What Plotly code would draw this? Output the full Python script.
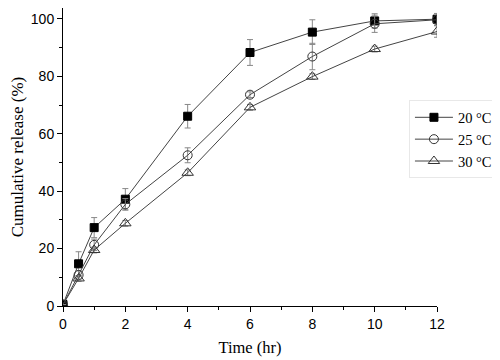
import plotly.graph_objects as go

time_hr = [0, 0.5, 1, 2, 4, 6, 8, 10, 12]
rel_20 = [0.5, 14.7, 27.3, 37.2, 66.1, 88.3, 95.4, 99.3, 99.9]
err_20 = [0, 4.2, 3.5, 3.7, 4.1, 4.5, 4.3, 2.5, 2.0]
rel_25 = [0.5, 10.8, 21.3, 35.4, 52.5, 73.6, 86.9, 98.3, 99.7]
err_25 = [0, 1.5, 2.0, 2.0, 2.6, 1.0, 4.6, 3.0, 2.0]
rel_30 = [0.5, 9.6, 19.5, 28.8, 46.4, 69.2, 79.9, 89.5, 95.6]
err_30 = [0, 1.0, 1.0, 1.0, 1.0, 1.0, 1.0, 1.0, 2.0]
labels = ["20 °C", "25 °C", "30 °C"]

series = [
    (rel_20, err_20, dict(symbol="square", size=8, color="black",
                          line=dict(color="black", width=1))),
    (rel_25, err_25, dict(symbol="circle-open", size=9, color="#333",
                          line=dict(color="#333", width=1))),
    (rel_30, err_30, dict(symbol="triangle-up-open", size=10, color="#333",
                          line=dict(color="#333", width=1))),
]

fig = go.Figure()
for (y, e, m), name in zip(series, labels):
    fig.add_trace(go.Scatter(
        x=time_hr, y=y, name=name, mode="lines+markers",
        line=dict(color="#444", width=1),
        marker=dict(**m),
        error_y=dict(type="data", array=e, visible=True, color="#888",
                     thickness=1, width=3),
    ))

serif = "Liberation Serif, Times New Roman, serif"
sans = "Liberation Sans, Arial, sans-serif"

axis_common = dict(
    showgrid=False, zeroline=False, showline=True, linecolor="black",
    linewidth=1, ticks="outside", ticklen=5, tickcolor="black",
    tickfont=dict(family=sans, size=14, color="black"),
    mirror=False,
)
fig.update_xaxes(range=[0, 12], dtick=2, tick0=0,
                 minor=dict(dtick=1, ticks="outside", ticklen=3, tickcolor="black"),
                 title=dict(text="Time (hr)", standoff=10,
                            font=dict(family=serif, size=16.5, color="black")),
                 **axis_common)
fig.update_yaxes(range=[0, 103.8], dtick=20, tick0=0,
                 minor=dict(dtick=10, ticks="outside", ticklen=3, tickcolor="black"),
                 title=dict(text="Cumulative release (%)", standoff=10,
                            font=dict(family=serif, size=17, color="black")),
                 **axis_common)

fig.update_layout(
    width=500, height=360,
    margin=dict(l=55, r=71, t=0, b=62, autoexpand=False),
    plot_bgcolor="white", paper_bgcolor="white",
    showlegend=True,
    legend=dict(x=0.925, y=0.69, xanchor="left", yanchor="top",
                bgcolor="rgba(255,255,255,1)", bordercolor="#e8e8e8", borderwidth=1,
                font=dict(family=serif, size=14.5, color="black"),
                tracegroupgap=0, itemwidth=38),
)

fig.write_html("out.html")
